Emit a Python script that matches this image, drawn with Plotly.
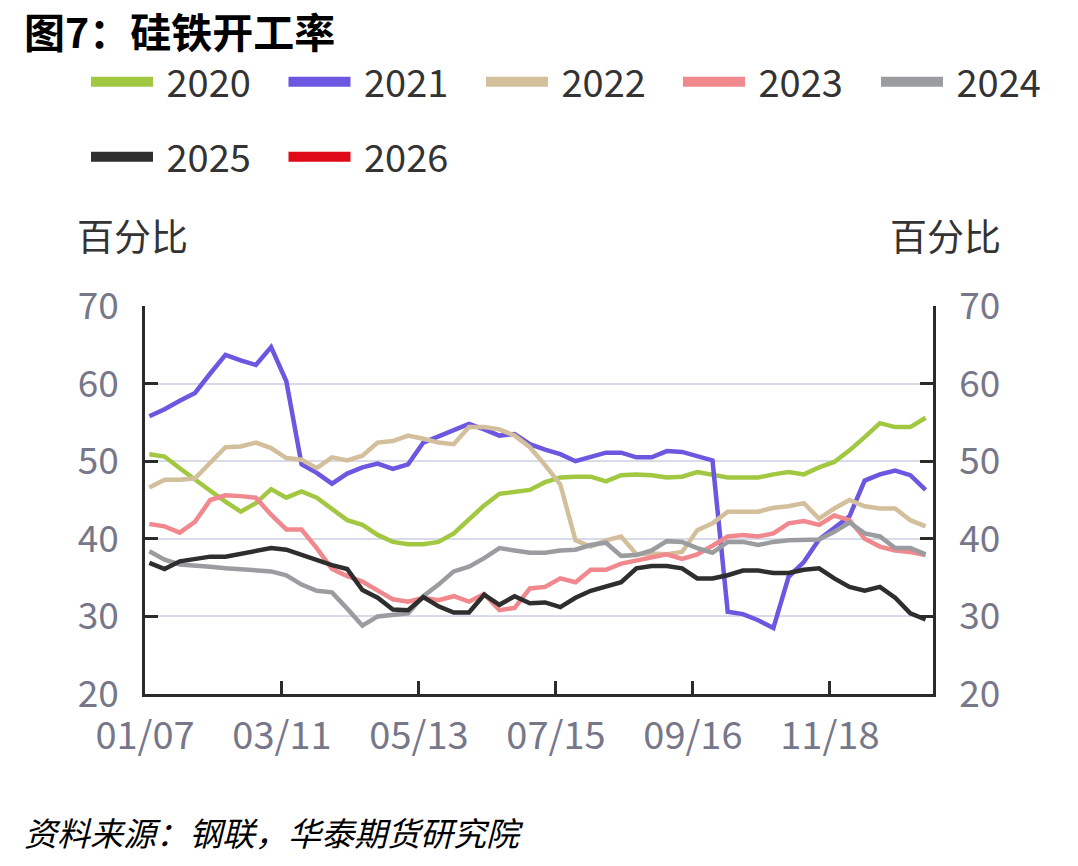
import pandas as pd
import plotly.graph_objects as go

# ---------------- data ----------------
tick_labels = ["01/07", "03/11", "05/13", "07/15", "09/16", "11/18"]
start_date = "2025-01-09"
n_weeks = 52

y2020 = [50.9, 50.6, 49.1, 47.6, 46.2, 44.8, 43.5, 44.6, 46.4, 45.3, 46.1, 45.3, 43.8, 42.4,
         41.8, 40.5, 39.6, 39.3, 39.3, 39.6, 40.7, 42.6, 44.3, 45.8, 46.0, 46.3, 47.3, 47.9,
         48.0, 48.0, 47.4, 48.2, 48.3, 48.2, 47.9, 48.0, 48.6, 48.3, 47.9, 47.9, 47.9, 48.3,
         48.6, 48.3, 49.2, 49.9, 51.4, 53.1, 54.9, 54.4, 54.4, 55.6]
y2021 = [55.8, 56.7, 57.8, 58.8, 61.3, 63.7, 63.0, 62.4, 64.7, 60.3, 49.6, 48.5, 47.1, 48.4,
         49.2, 49.7, 49.0, 49.6, 52.4, 53.2, 53.9, 54.8, 54.1, 53.3, 53.5, 52.2, 51.5, 50.9,
         50.0, 50.5, 51.1, 51.1, 50.5, 50.5, 51.3, 51.2, 50.7, 50.1, 30.6, 30.3, 29.5, 28.5,
         35.1, 37.0, 39.9, 41.4, 42.9, 47.5, 48.3, 48.8, 48.2, 46.3]
y2022 = [46.6, 47.6, 47.6, 47.8, 49.8, 51.8, 51.9, 52.4, 51.7, 50.4, 50.2, 49.1, 50.5, 50.1,
         50.7, 52.4, 52.6, 53.3, 52.9, 52.4, 52.2, 54.4, 54.4, 54.1, 53.3, 51.8, 49.5, 47.0,
         39.8, 39.0, 39.8, 40.3, 38.0, 38.1, 38.0, 38.3, 41.1, 42.0, 43.5, 43.5, 43.5, 44.0,
         44.2, 44.6, 42.6, 43.9, 45.0, 44.2, 43.9, 43.9, 42.4, 41.6]
y2023 = [41.9, 41.6, 40.8, 42.2, 45.0, 45.6, 45.5, 45.3, 43.1, 41.2, 41.2, 38.8, 36.1, 35.2,
         34.5, 33.4, 32.2, 31.9, 32.4, 32.1, 32.6, 31.9, 32.9, 30.8, 31.1, 33.6, 33.8, 34.9,
         34.4, 36.0, 36.0, 36.8, 37.2, 37.7, 38.0, 37.4, 38.0, 39.1, 40.3, 40.5, 40.3, 40.7,
         42.0, 42.3, 41.8, 43.0, 42.4, 40.0, 39.0, 38.5, 38.3, 37.9]
y2024 = [38.4, 37.3, 36.7, 36.6, 36.4, 36.2, 36.1, 35.9, 35.8, 35.3, 34.1, 33.3, 33.1, 31.0,
         28.8, 30.0, 30.2, 30.4, 32.6, 34.1, 35.8, 36.4, 37.5, 38.8, 38.5, 38.2, 38.2, 38.5,
         38.6, 39.2, 39.5, 37.8, 37.9, 38.5, 39.7, 39.6, 38.8, 38.2, 39.6, 39.6, 39.2, 39.6,
         39.8, 39.8, 39.9, 40.9, 42.1, 40.7, 40.3, 38.8, 38.8, 38.0]
y2025 = [36.9, 36.1, 37.1, 37.4, 37.7, 37.7, 38.1, 38.5, 38.8, 38.6, 37.9, 37.3, 36.6, 36.1,
         33.4, 32.4, 30.9, 30.8, 32.5, 31.3, 30.5, 30.5, 32.8, 31.5, 32.6, 31.7, 31.8, 31.2,
         32.4, 33.3, 33.8, 34.4, 36.2, 36.5, 36.5, 36.2, 34.9, 34.9, 35.3, 35.9, 35.9, 35.6,
         35.6, 36.0, 36.2, 34.9, 33.8, 33.3, 33.8, 32.4, 30.4, 29.6]
y2026 = []

series_names = ["2020", "2021", "2022", "2023", "2024", "2025", "2026"]
series_values = [y2020, y2021, y2022, y2023, y2024, y2025, y2026]
colors = ["#A2C842", "#6B57E0", "#D3BF9C", "#F0888D", "#9B9C9F", "#2E2E2E", "#DE0A17"]

# legend layout (pixel positions of each legend entry: left x, centre y)
legend_pos = [(86, 82), (283.5, 82), (481, 82), (678, 82), (876, 82), (86, 157), (283.5, 157)]

# ---------------- figure ----------------
W, H = 1078, 866
ML, MR, MT, MB = 145, 145, 306, 172
dates = pd.date_range(start_date, periods=n_weeks, freq="7D")
tick_dates = [pd.Timestamp("2025-" + t.replace("/", "-")) for t in tick_labels]

FONT = "Noto Sans CJK SC"
TICK_COLOR = "#77778A"
TEXT_COLOR = "#333333"

fig = go.Figure()
legend_layouts = {}
for i, (name, vals, col) in enumerate(zip(series_names, series_values, colors)):
    lg = "legend" if i == 0 else f"legend{i + 1}"
    xs = list(dates[:len(vals)])
    fig.add_trace(go.Scatter(
        x=xs, y=vals, mode="lines", name=name, legendgroup=name, showlegend=False,
        line=dict(color=col, width=4.5), yaxis="y2" if name == "2025" else "y"))
    # legend entry (thicker sample)
    fig.add_trace(go.Scatter(
        x=[dates[0]], y=[None], mode="lines", name="\u00a0" + name, legendgroup=name,
        legend=lg, line=dict(color=col, width=10)))
    px, py = legend_pos[i]
    legend_layouts[lg] = dict(
        orientation="h", xref="container", yref="container",
        x=px / W, xanchor="left", y=1 - py / H, yanchor="middle",
        font=dict(family=FONT, size=38, color=TEXT_COLOR),
        itemwidth=62, bgcolor="rgba(0,0,0,0)", borderwidth=0,
    )

axis_common = dict(
    range=[20, 70], dtick=10, tick0=20,
    showline=True, linecolor="#2b2b2b", linewidth=2.5,
    ticks="inside", ticklen=13, tickwidth=2.5, tickcolor="#2b2b2b",
    tickfont=dict(family=FONT, size=37, color=TICK_COLOR),
    ticklabelstandoff=16,
    zeroline=False,
)

fig.update_layout(
    width=W, height=H,
    paper_bgcolor="white", plot_bgcolor="white",
    margin=dict(l=ML, r=MR, t=MT, b=MB),
    font=dict(family=FONT),
    xaxis=dict(
        type="date",
        range=["2025-01-07", "2026-01-04 10:00"],
        tickvals=tick_dates, ticktext=tick_labels,
        showline=True, linecolor="#2b2b2b", linewidth=2.5,
        ticks="inside", ticklen=13, tickwidth=2.5, tickcolor="#2b2b2b",
        tickfont=dict(family=FONT, size=38, color=TICK_COLOR),
        ticklabelstandoff=7,
        showgrid=False, zeroline=False,
    ),
    yaxis=dict(**axis_common, side="left", showgrid=True, gridcolor="#D8DCE8", gridwidth=2),
    yaxis2=dict(**axis_common, side="right", overlaying="y", showgrid=False),
    **legend_layouts,
)

annotations = [
    dict(text="<b>图7：硅铁开工率</b>", x=22, y=30, xanchor="left",
         font=dict(family=FONT, size=41, color="#000000")),
    dict(text="百分比", x=75, y=235, xanchor="left",
         font=dict(family=FONT, size=37, color=TEXT_COLOR)),
    dict(text="百分比", x=1003, y=235, xanchor="right",
         font=dict(family=FONT, size=37, color=TEXT_COLOR)),
    dict(text="<i>资料来源：钢联，华泰期货研究院</i>", x=22, y=832, xanchor="left",
         font=dict(family=FONT, size=33, color="#000000")),
]
for a in annotations:
    a.update(xref="paper", yref="paper", showarrow=False, yanchor="middle")
    a["x"] = (a["x"] - ML) / (W - ML - MR)
    a["y"] = ((H - a["y"]) - MB) / (H - MT - MB)
fig.update_layout(annotations=annotations)

fig.write_html("out.html")
